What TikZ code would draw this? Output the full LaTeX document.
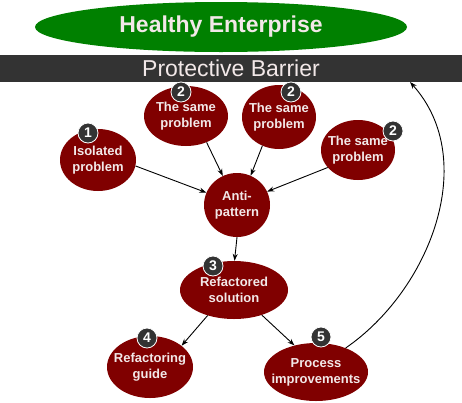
\documentclass[tikz,border=0pt]{standalone}
\usepackage{fontspec}
\setmainfont{Liberation Sans}
\usepackage{xcolor}
\usepackage{tikz}
\usetikzlibrary{positioning,arrows.meta,shapes.geometric}

\definecolor{probred}{HTML}{800000}
\definecolor{healthgreen}{HTML}{008000}
\definecolor{barrgray}{HTML}{333333}
\definecolor{lighttxt}{HTML}{F2E8E8}

\begin{document}
\begin{tikzpicture}[x=1pt,y=1pt,
  prob/.style={ellipse,fill=probred,inner sep=0pt},
  probtxt/.style={inner sep=0pt,text=lighttxt,align=center,
    font=\bfseries\fontsize{13}{16}\selectfont},
  badge/.style={circle,fill=barrgray,draw=white,line width=0.8pt,minimum size=20pt,
    inner sep=0pt,text=white,font=\bfseries\fontsize{14}{14}\selectfont},
  arr/.style={-{Stealth[length=7pt,width=5pt]},line width=0.9pt}]
\useasboundingbox (0,0) rectangle (462,-402);
% top: goal and barrier
\node[ellipse,fill=healthgreen,minimum width=372pt,minimum height=50pt,inner sep=0pt,
  text=lighttxt,font=\bfseries\fontsize{23}{23}\selectfont] (health) at (221,-27) {Healthy Enterprise};
\node[fill=barrgray,minimum width=462pt,minimum height=27pt,inner sep=0pt,text=lighttxt,
  font=\fontsize{23}{23}\selectfont] (barrier) at (231,-68.5) {Protective Barrier};
% problems
\node[prob,minimum width=84pt,minimum height=60pt] (same1) at (186,-116) {};
\node[prob,minimum width=74pt,minimum height=64pt] (same2) at (279,-117) {};
\node[prob,minimum width=74pt,minimum height=60pt] (same3) at (358,-150) {};
\node[prob,minimum width=76pt,minimum height=62pt] (iso) at (98,-160) {};
\node[prob,minimum width=66pt,minimum height=64pt] (anti) at (237,-205) {};
\node[prob,minimum width=108pt,minimum height=58pt] (refac) at (234,-290) {};
\node[prob,minimum width=86pt,minimum height=62pt] (guide) at (150,-367) {};
\node[prob,minimum width=104pt,minimum height=58pt] (proc) at (316,-372) {};
\node[probtxt] (same1t) at (same1) {The same\\problem};
\node[probtxt] (same2t) at (same2) {The same\\problem};
\node[probtxt] (same3t) at (same3) {The same\\problem};
\node[probtxt] (isot) at (iso) {Isolated\\problem};
\node[probtxt] (antit) at (anti) {Anti-\\pattern};
\node[probtxt] (refact) at (refac) {Refactored\\solution};
\node[probtxt] (guidet) at (guide) {Refactoring\\guide};
\node[probtxt] (proct) at (proc) {Process\\improvements};
% numbers
\node[badge] (b1) at (88,-133) {1};
\node[badge] (b2a) at (181,-92) {2};
\node[badge] (b2b) at (291,-92) {2};
\node[badge] (b2c) at (393,-131) {2};
\node[badge] (b3) at (213,-266) {3};
\node[badge] (b4) at (147,-338) {4};
\node[badge] (b5) at (321,-337) {5};
% connectors
\draw[arr] (iso.-9) -- (anti.158);
\draw[arr] (same1.-52) -- (anti.116);
\draw[arr] (same2.-120) -- (anti.65);
\draw[arr] (same3.210) -- (anti.24);
\draw[arr] (anti.-90) -- (refac.89);
\draw[arr] (refac.224) -- (guide.34);
\draw[arr] (refac.-42) -- (proc.129);
\coordinate (bartip) at (410,-82);
\draw[arr] (proc.39) .. controls (430,-290) and (480,-160) .. (bartip);
\end{tikzpicture}
\end{document}
